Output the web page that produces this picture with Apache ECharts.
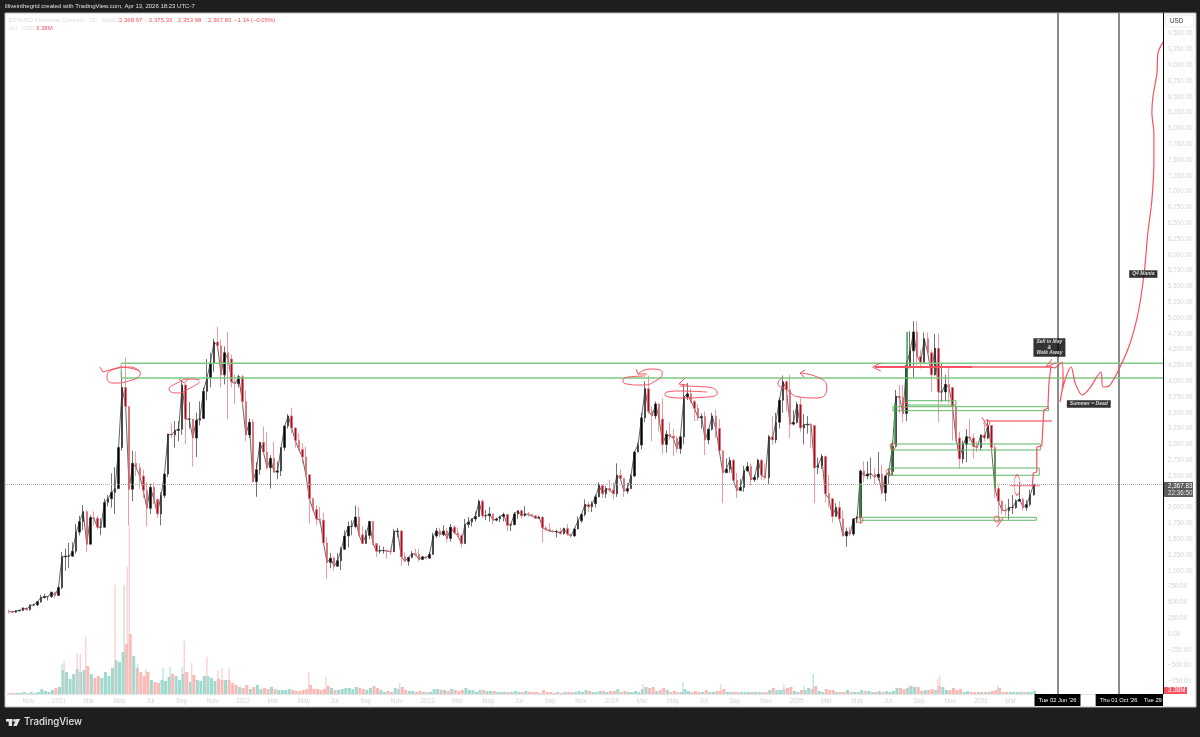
<!DOCTYPE html>
<html>
<head>
<meta charset="utf-8">
<title>ETHUSD</title>
<style>
html,body{margin:0;padding:0;background:#1e1e1e;}
#main{width:1200px;height:737px;}
</style>
<script src="https://cdn.jsdelivr.net/npm/echarts@6/dist/echarts.min.js"></script>
</head>
<body>
<div id="main"></div>
<script>
// weekly candles: [week, open, close, low, high, volume]
var weeks2020 = [
  ['09-21',365,355,320,385,1],['09-28',355,345,335,375,1],['10-05',345,365,335,380,1],['10-12',365,370,360,385,1],
  ['10-19',370,410,365,420,2],['10-26',410,385,365,420,1],['11-02',385,455,370,470,2],['11-09',455,460,440,480,1],
  ['11-16',460,510,440,510,2],['11-23',510,575,490,620,5],['11-30',575,590,560,635,3],['12-07',590,590,530,600,2],
  ['12-14',590,660,570,670,4],['12-21',660,610,560,670,6],['12-28',610,735,600,760,7]
];
var weeks2021 = [
  ['01-04',735,1220,710,1300,24],['01-11',1220,1230,1000,1350,22],['01-18',1230,1230,1040,1440,15],['01-25',1230,1310,1220,1450,20],
  ['02-01',1310,1610,1270,1740,25],['02-08',1610,1780,1560,1870,22],['02-15',1780,1935,1640,2040,24],['02-22',1935,1420,1300,1960,28],
  ['03-01',1420,1840,1420,1880,20],['03-08',1840,1830,1720,1940,16],['03-15',1830,1690,1650,1870,18],['03-22',1690,1690,1560,1830,16],
  ['03-29',1690,2080,1680,2140,22],['04-05',2080,2140,2020,2200,18],['04-12',2140,2240,2000,2540,26],['04-19',2240,2300,1900,2640,34],
  ['04-26',2300,2950,2300,2950,32],['05-03',2950,3900,2900,4170,42],['05-10',3900,3600,3500,4370,50],['05-17',3600,2290,1720,3600,60],
  ['05-24',2290,2700,2100,2900,38],['05-31',2700,2630,2500,2890,26],['06-07',2630,2500,2300,2700,22],['06-14',2500,2270,2150,2600,18],
  ['06-21',2270,1990,1700,2400,22],['06-28',1990,2320,1900,2380,14],['07-05',2320,2130,2050,2400,12],['07-12',2130,1900,1840,2100,11],
  ['07-19',1900,2190,1720,2240,14],['07-26',2190,2530,2150,2550,13],['08-02',2530,3160,2480,3170,17],['08-09',3160,3150,3100,3330,20],
  ['08-16',3150,3220,2950,3370,18],['08-23',3220,3240,3050,3370,14],['08-30',3240,3940,3150,4020,20],['09-06',3940,3400,3000,3970,22],
  ['09-13',3400,3400,3250,3670,12],['09-20',3400,3100,2650,3200,19],['09-27',3100,3380,2800,3500,14],['10-04',3380,3410,3300,3680,13],
  ['10-11',3410,3840,3400,3900,18],['10-18',3840,4050,3700,4350,18],['10-25',4050,4290,3900,4450,16],['11-01',4290,4620,4150,4670,13],
  ['11-08',4620,4560,4500,4860,15],['11-15',4560,4100,3900,4660,14],['11-22',4100,4450,3950,4550,14],['11-29',4450,4350,3400,4780,14],
  ['12-06',4350,3990,3900,4420,11],['12-13',3990,3960,3640,4100,9],['12-20',3960,4070,3900,4100,7],['12-27',4070,3680,3600,4100,6]
];
var weeks2022 = [
  ['01-03',3680,3150,3050,3850,9],['01-10',3150,3350,3100,3410,5],['01-17',3350,2410,2400,3400,7],['01-24',2410,2600,2170,2720,9],
  ['01-31',2600,3030,2520,3040,5],['02-07',3030,2880,2860,3280,6],['02-14',2880,2630,2600,3190,5],['02-21',2630,2780,2300,2830,7],
  ['02-28',2780,2560,2560,3040,5],['03-07',2560,2580,2450,2730,4],['03-14',2580,2950,2500,2950,4],['03-21',2950,3290,2900,3300,4],
  ['03-28',3290,3450,3250,3480,5],['04-04',3450,3260,3180,3580,4],['04-11',3260,3060,2950,3270,3],['04-18',3060,2920,2900,3180,3],
  ['04-25',2920,2800,2700,3020,4],['05-02',2800,2520,2480,2960,5],['05-09',2520,2140,1750,2520,9],['05-16',2140,1970,1950,2160,5],
  ['05-23',1970,1820,1720,2040,5],['05-30',1820,1800,1750,2010,4],['06-06',1800,1440,1430,1920,5],['06-13',1440,1130,870,1530,8],
  ['06-20',1130,1200,1040,1280,6],['06-27',1200,1070,1000,1230,4],['07-04',1070,1160,1070,1280,4],['07-11',1160,1340,1010,1380,5],
  ['07-18',1340,1550,1330,1640,6],['07-25',1550,1700,1370,1780,6],['08-01',1700,1700,1560,1800,5],['08-08',1700,1850,1670,2030,7],
  ['08-15',1850,1570,1550,2010,6],['08-22',1570,1430,1430,1700,5],['08-29',1430,1560,1430,1650,4],['09-05',1560,1780,1500,1790,6],
  ['09-12',1780,1430,1400,1780,8],['09-19',1430,1310,1220,1400,6],['09-26',1310,1320,1270,1400,4],['10-03',1320,1320,1270,1380,2],
  ['10-10',1320,1310,1190,1340,3],['10-17',1310,1300,1250,1350,2],['10-24',1300,1620,1300,1660,6],['10-31',1620,1630,1530,1680,5],
  ['11-07',1630,1220,1080,1650,7],['11-14',1220,1150,1150,1290,4],['11-21',1150,1210,1080,1220,3],['11-28',1210,1270,1200,1310,3],
  ['12-05',1270,1260,1220,1350,2],['12-12',1260,1180,1150,1350,3],['12-19',1180,1220,1170,1230,2],['12-26',1220,1200,1190,1230,2]
];
var weeks2023 = [
  ['01-02',1200,1260,1190,1300,2],['01-09',1260,1550,1250,1600,5],['01-16',1550,1630,1520,1680,5],['01-23',1630,1570,1530,1680,4],
  ['01-30',1570,1630,1550,1720,4],['02-06',1630,1510,1450,1680,3],['02-13',1510,1690,1460,1740,5],['02-20',1690,1600,1580,1720,4],
  ['02-27',1600,1560,1530,1680,3],['03-06',1560,1430,1370,1590,4],['03-13',1430,1730,1430,1820,6],['03-20',1730,1770,1680,1850,4],
  ['03-27',1770,1820,1700,1830,4],['04-03',1820,1860,1780,1940,2],['04-10',1860,2100,1850,2130,4],['04-17',2100,1870,1830,2130,4],
  ['04-24',1870,1870,1800,1960,3],['05-01',1870,1900,1780,2010,3],['05-08',1900,1800,1740,1910,3],['05-15',1800,1820,1780,1840,2],
  ['05-22',1820,1860,1770,1870,2],['05-29',1860,1890,1780,1920,2],['06-05',1890,1720,1630,1890,2],['06-12',1720,1730,1630,1750,2],
  ['06-19',1730,1900,1720,1930,3],['06-26',1900,1950,1820,1950,2],['07-03',1950,1870,1830,1970,2],['07-10',1870,1900,1860,2020,3],
  ['07-17',1900,1890,1850,1930,2],['07-24',1890,1870,1850,1900,2],['07-31',1870,1830,1820,1880,2],['08-07',1830,1850,1820,1870,1],
  ['08-14',1850,1680,1450,1860,4],['08-21',1680,1650,1630,1700,2],['08-28',1650,1630,1610,1750,2],['09-04',1630,1620,1600,1650,1],
  ['09-11',1620,1620,1530,1650,2],['09-18',1620,1590,1570,1680,1],['09-25',1590,1670,1570,1680,2],['10-02',1670,1580,1550,1740,2],
  ['10-09',1580,1550,1520,1590,2],['10-16',1550,1660,1540,1680,2],['10-23',1660,1790,1660,1860,3],['10-30',1790,1890,1760,1910,2],
  ['11-06',1890,2050,1860,2130,4],['11-13',2050,2010,1930,2090,3],['11-20',2010,2060,1930,2100,2],['11-27',2060,2170,2000,2210,2],
  ['12-04',2170,2350,2160,2400,3],['12-11',2350,2220,2150,2350,3],['12-18',2220,2300,2150,2340,2],['12-25',2300,2280,2240,2440,3]
];
var weeks2024 = [
  ['01-01',2280,2220,2130,2400,3],['01-08',2220,2510,2170,2700,5],['01-15',2510,2460,2440,2610,2],['01-22',2460,2260,2170,2470,3],
  ['01-29',2260,2300,2220,2390,2],['02-05',2300,2500,2290,2530,2],['02-12',2500,2880,2480,2890,3],['02-19',2880,2990,2890,3030,2],
  ['02-26',2990,3420,2920,3500,5],['03-04',3420,3880,3350,4000,7],['03-11',3880,3520,3480,4090,6],['03-18',3520,3450,3050,3600,7],
  ['03-25',3450,3640,3400,3680,3],['04-01',3640,3400,3200,3650,4],['04-08',3400,3000,2850,3730,6],['04-15',3000,3160,2870,3220,4],
  ['04-22',3160,3130,3080,3350,2],['04-29',3130,3100,2820,3250,3],['05-06',3100,2930,2870,3130,2],['05-13',2930,3120,2850,3120,2],
  ['05-20',3120,3750,3000,3950,5],['05-27',3750,3800,3700,3970,3],['06-03',3800,3680,3650,3880,2],['06-10',3680,3570,3370,3700,3],
  ['06-17',3570,3420,3370,3640,2],['06-24',3420,3440,3250,3490,2],['07-01',3440,3070,2830,3520,4],['07-08',3070,3240,3000,3240,2],
  ['07-15',3240,3450,3220,3500,2],['07-22',3450,3250,3100,3550,3],['07-29',3250,2900,2900,3400,3],['08-05',2900,2550,2070,2900,5],
  ['08-12',2550,2610,2550,2780,2],['08-19',2610,2750,2550,2800,2],['08-26',2750,2430,2420,2770,2],['09-02',2430,2270,2150,2550,2],
  ['09-09',2270,2320,2260,2450,2],['09-16',2320,2580,2250,2660,2],['09-23',2580,2650,2570,2720,2],['09-30',2650,2440,2350,2700,2],
  ['10-07',2440,2480,2410,2520,2],['10-14',2480,2750,2440,2770,2],['10-21',2750,2510,2440,2770,2],['10-28',2510,2470,2440,2700,2],
  ['11-04',2470,3120,2370,3150,4],['11-11',3120,3070,3000,3450,6],['11-18',3070,3350,3020,3500,4],['11-25',3350,3700,3250,3740,4],
  ['12-02',3700,3990,3500,4090,5],['12-09',3990,3870,3520,4020,6],['12-16',3870,3320,3100,4100,7],['12-23',3320,3350,3300,3540,3],
  ['12-30',3350,3630,3330,3670,2]
];
var weeks2025 = [
  ['01-06',3630,3260,3200,3740,4],['01-13',3260,3310,3000,3480,4],['01-20',3310,3320,3170,3450,6],['01-27',3320,3300,2950,3340,5],
  ['02-03',3300,2630,2070,3300,8],['02-10',2630,2670,2530,2790,3],['02-17',2670,2810,2610,2850,2],['02-24',2810,2220,2080,2820,5],
  ['03-03',2220,2140,2000,2520,4],['03-10',2140,1860,1760,2150,4],['03-17',1860,2000,1860,2070,2],['03-24',2000,1820,1800,2100,2],
  ['03-31',1820,1550,1540,1950,2],['04-07',1550,1620,1380,1680,4],['04-14',1620,1580,1550,1690,2],['04-21',1580,1820,1550,1830,2],
  ['04-28',1820,1840,1750,1870,2],['05-05',1840,2580,1750,2600,4],['05-12',2580,2500,2400,2730,3],['05-19',2500,2530,2450,2730,3],
  ['05-26',2530,2530,2450,2790,2],['06-02',2530,2480,2370,2620,2],['06-09',2480,2530,2430,2880,3],['06-16',2530,2230,2200,2680,2],
  ['06-23',2230,2500,2100,2520,3],['06-30',2500,2570,2370,2620,2],['07-07',2570,2970,2500,3040,3],['07-14',2970,3760,2950,3860,6],
  ['07-21',3760,3740,3500,3940,6],['07-28',3740,3490,3350,3940,5],['08-04',3490,4250,3370,4330,6],['08-11',4250,4480,4200,4790,8],
  ['08-18',4480,4780,4060,4950,7],['08-25',4780,4390,4250,4950,7],['09-01',4390,4300,4200,4500,3],['09-08',4300,4670,4280,4770,4],
  ['09-15',4670,4450,4440,4770,4],['09-22',4450,4100,3830,4500,5],['09-29',4100,4520,4090,4750,4],['10-06',4520,3830,3350,4750,8],
  ['10-13',3830,3830,3670,4290,7],['10-20',3830,3950,3680,4100,4],['10-27',3950,3900,3650,4250,4],['11-03',3900,3600,3060,3900,6],
  ['11-10',3600,3100,3050,3650,4],['11-17',3100,2770,2620,3200,5],['11-24',2770,3000,2700,3060,2],['12-01',3000,3120,2720,3240,3],
  ['12-08',3120,3100,3050,3400,2],['12-15',3100,2970,2780,3170,2],['12-22',2970,2950,2880,3050,2],['12-29',2950,3150,2900,3150,2]
];
var weeks2026 = [
  ['01-05',3150,3100,3050,3300,2],['01-12',3100,3300,3080,3400,2],['01-19',3300,2950,2870,3300,3],['01-26',2950,2300,2150,3000,4],
  ['02-02',2300,2100,1750,2350,6],['02-09',2100,1960,1900,2120,2],['02-16',1960,1950,1870,2050,2],['02-23',1950,2000,1810,2140,2],
  ['03-02',2000,2000,1900,2200,2],['03-09',2000,2100,1980,2130,2],['03-16',2100,2130,2100,2400,2],['03-23',2130,2000,1950,2160,2],
  ['03-30',2000,2050,1950,2120,2],['04-06',2050,2200,2020,2280,2],['04-13',2200,2367.83,2190,2375.33,3.38]
];
var years = [[2020,weeks2020],[2021,weeks2021],[2022,weeks2022],[2023,weeks2023],[2024,weeks2024],[2025,weeks2025],[2026,weeks2026]];

// single day volume spikes that stand above the weekly bars, [days since 1 Jan 2021, volume]
var downSpikes = [[10,33],[36,41],[42,40],[53,57],[111,109],[135,127],[139,169],[172,25],[248,53],[263,31],[293,37],[315,24],[323,26],[337,26],[495,22],[529,17],[675,11],[1157,10],[1311,10],[1436,10],[1684,9],[1741,15],[1745,18]];
var upSpikes = [[6,30],[129,109],[156,30],[206,26],[220,27],[244,27],[1236,12],[1476,8],[1494,20],[1860,8]];

var lastClose = 2367.83;
var priceTicks = [-750,-500,-250,0,250,500,750,1000,1250,1500,1750,2000,2250,2500,2750,3000,3250,3500,3750,4000,4250,4500,4750,5000,5250,5500,5750,6000,6250,6500,6750,7000,7250,7500,7750,8000,8250,8500,8750,9000,9250,9500];
var timeTicks = [['2020-11-01','Nov'],['2021-01-01','2021'],['2021-03-01','Mar'],['2021-05-01','May'],['2021-07-01','Jul'],['2021-09-01','Sep'],['2021-11-01','Nov'],
  ['2022-01-01','2022'],['2022-03-01','Mar'],['2022-05-01','May'],['2022-07-01','Jul'],['2022-09-01','Sep'],['2022-11-01','Nov'],
  ['2023-01-01','2023'],['2023-03-01','Mar'],['2023-05-01','May'],['2023-07-01','Jul'],['2023-09-01','Sep'],['2023-11-01','Nov'],
  ['2024-01-01','2024'],['2024-03-01','Mar'],['2024-05-01','May'],['2024-07-01','Jul'],['2024-09-01','Sep'],['2024-11-01','Nov'],
  ['2025-01-01','2025'],['2025-03-01','Mar'],['2025-05-01','May'],['2025-07-01','Jul'],['2025-09-01','Sep'],['2025-11-01','Nov'],
  ['2026-01-01','2026'],['2026-03-01','Mar']];
var timeLines = [['2026-06-02',"Tue 02 Jun '26"],['2026-10-01',"Thu 01 Oct '26"]];

// drawings on the chart, as [days since 1 Jan 2021, price]
var band = [4285,4050];
var bandStart = 123;
var bandEnd = 2187;
var boxes = [[1587,1846,1936,1799],[1644,2626,1942,2511],[1648,3006,1944,2911],[1652,3596,1960,3533],[1680,3691,1777,3623]];
var greenRuns = [
  [[1587,1851],[1587,2389]],[[1650,3006],[1650,2515]],[[1656,3654],[1656,3022]],[[1680,3670],[1680,4778]],[[1854,2911],[1854,2310]]
];
var scribbles = [
  [[81,4224],[87,4145],[121,4224]],
  [[238,4034],[248,3971],[256,4034]],
  [[1143,4192],[1147,4113],[1165,4113]],
  [[1240,4050],[1228,3955],[1244,3940]],
  [[1478,4176],[1468,4129],[1476,4066]],
  [[1828,3433],[1840,3275]],
  [[1858,1693],[1870,1835]],
  [[1628,4290],[1612,4224],[1628,4160]],
  [[1967,4350],[1955,4224],[1975,4290]]
];
var ovals = [
  [[121,4224],[161,4129],[145,4018],[107,3971],[95,4066],[111,4192],[141,4224],[161,4145]],
  [[279,3987],[260,3892],[234,3813],[218,3876],[230,3955],[260,4034],[279,4018]],
  [[1147,4113],[1171,4192],[1195,4129],[1185,4018],[1151,3939],[1125,3955],[1117,4002],[1127,4066],[1161,4082]],
  [[1230,3923],[1284,3908],[1304,3813],[1284,3749],[1230,3734],[1200,3797],[1224,3844],[1284,3828]],
  [[1468,4129],[1502,4066],[1521,3892],[1502,3734],[1468,3749],[1442,3860],[1424,3971],[1432,4050]]
];
var hLines = [
  [[1617,4224],[1967,4224]],
  [[1617,4224],[1809,4224]],
  [[1838,3370],[1967,3370]],
  [[1884,2346],[1943,2346]]
];
var stairs = [[1928,2326],[1928,2357],[1930,2547],[1937,2563],[1937,2958],[1947,2974],[1949,3275],[1951,3544],[1959,3575],[1961,3971],[1965,4224],[1973,4208]];
var forecast = [[1973,4208],[1987,4303],[1989,4018],[1983,3670],[1991,3971],[2005,4224],[2013,3971],[2027,3781],[2042,3892],[2064,4145],[2068,3908],[2082,3939],[2102,4224],[2122,4604],[2136,5015],[2143,5316],[2151,5806],[2157,6344],[2165,6866],[2169,7499],[2169,7926],[2165,8242],[2167,8495],[2175,8875],[2177,9191],[2187,9365]];
var rings = [[1652,2974],[1644,2563],[1587,1803],[1676,3623],[1858,1819],[1838,3338]];
var notes = [[1962,4533,'Sell in May\n&\nWalk Away'],[2040,3639,'Summer = Dead'],[2148,5695,'Q4 Mania']];

function dayNo(s){
  return (Date.parse(s+'T00:00:00Z')-Date.UTC(2021,0,1))/86400000;
}
function money(v){
  var t=Math.abs(v).toLocaleString('en-US',{minimumFractionDigits:2,maximumFractionDigits:2});
  return (v<0?'\u2212':'')+t;
}

var candles=[],closes=[],volumes=[];
years.forEach(function(y){
  y[1].forEach(function(r){
    var x=dayNo(y[0]+'-'+r[0])+3;
    candles.push([x,r[1],r[2],r[3],r[4]]);
    closes.push([x,r[2]]);
    volumes.push({value:[x,r[5]],itemStyle:{color:r[2]>=r[1]?'#9fd9d0':'#fbb9b5'}});
  });
});
var tickDays=timeTicks.map(function(t){return dayNo(t[0]);});
var tickNames={};
timeTicks.forEach(function(t){tickNames[dayNo(t[0])]=t[1];});

var FONT='"Liberation Sans",sans-serif';
var RED='#f7525f';
var GREEN='#5fb866';

function line(data,color,width,smooth,opacity){
  return {type:'line',data:data,symbol:'none',smooth:smooth||false,silent:true,z:5,clip:true,
    lineStyle:{color:color,width:width,opacity:opacity==null?1:opacity}};
}
function txt(x,y,s,color,size,extra){
  var style={x:x,y:y,text:s,fill:color,font:(size||6.3)+'px '+FONT,textVerticalAlign:'middle'};
  for(var k in extra||{})style[k]=extra[k];
  return {type:'text',z:100,style:style,silent:true};
}
function dateLine(t){
  return {xAxis:dayNo(t[0]),lineStyle:{color:'#666',type:'solid',width:1.5},
    label:{show:true,position:'start',distance:0,formatter:t[1],color:'#fff',backgroundColor:'#000',fontSize:5.8,fontFamily:FONT,padding:[3,4],verticalAlign:'top'}};
}

var series=[];
series.push({type:'bar',name:'Vol',data:volumes,yAxisIndex:1,barWidth:3,silent:true,z:1});
series.push({type:'bar',name:'VolDown',data:downSpikes,yAxisIndex:1,barWidth:1,barGap:'-100%',silent:true,z:1,itemStyle:{color:'#f9c2be'}});
series.push({type:'bar',name:'VolUp',data:upSpikes,yAxisIndex:1,barWidth:1,barGap:'-100%',silent:true,z:1,itemStyle:{color:'#a5dcd4'}});
var closeLine=line(closes,'#666',1);
closeLine.z=2;
series.push(closeLine);
series.push({type:'candlestick',name:'ETHUSD',data:candles,barWidth:2,silent:true,z:3,encode:{x:0,y:[1,2,3,4]},
  itemStyle:{color:'#000',color0:'#a50e16',borderColor:'#333',borderColor0:'#e8707a',borderWidth:0.7},
  markLine:{symbol:'none',silent:true,z:4,animation:false,
    data:[
      {yAxis:lastClose,lineStyle:{color:'#aaa',type:'dotted',width:1},label:{show:false}},
      dateLine(timeLines[0]),
      dateLine(timeLines[1])
    ]}
});
series.push(line([[bandStart,band[0]],[bandEnd,band[0]]],'#7ec983',1.5));
series.push(line([[bandStart,band[1]],[bandEnd,band[1]]],'#7ec983',1.5));
series.push(line([[bandStart,band[0]],[bandStart,band[1]]],'#7ec983',1));
boxes.forEach(function(b){
  series.push(line([[b[0],b[1]],[b[2],b[1]],[b[2],b[3]],[b[0],b[3]],[b[0],b[1]]],GREEN,1));
});
greenRuns.forEach(function(g){series.push(line(g,'#3f9f45',1.5));});
scribbles.forEach(function(s){series.push(line(s,RED,1));});
ovals.forEach(function(s){series.push(line(s,RED,1,0.6));});
series.push(line(hLines[0],RED,2,false,0.7));
series.push(line(hLines[1],RED,2));
series.push(line(hLines[2],'#f23645',1));
series.push(line(hLines[3],RED,1,false,0.8));
series.push(line(stairs,RED,1.2));
series.push(line(forecast,RED,1.2,0.3));
series.push({type:'scatter',data:rings,symbol:'circle',symbolSize:6,silent:true,z:6,itemStyle:{color:'transparent',borderColor:RED,borderWidth:1}});
series.push({type:'scatter',data:[[1898,2357]],symbol:'circle',symbolSize:[6,20],silent:true,z:6,itemStyle:{color:'transparent',borderColor:RED,borderWidth:1}});
series.push({type:'scatter',data:notes,symbolSize:0,silent:true,z:7,
  label:{show:true,position:'inside',color:'#fff',fontSize:5,fontWeight:'bold',fontStyle:'italic',fontFamily:FONT,lineHeight:5.5,align:'center',verticalAlign:'middle',
    backgroundColor:'#000',padding:[1,3],formatter:function(p){return p.value[2];}}});

var chart=echarts.init(document.getElementById('main'),null,{renderer:'canvas'});
chart.setOption({
  animation:false,
  backgroundColor:'#1e1e1e',
  tooltip:{show:false},
  legend:{show:false},
  grid:{left:5,right:37,top:13,bottom:43,containLabel:false},
  xAxis:{type:'value',min:-107,max:2187,splitLine:{show:false},
    axisLine:{show:true,onZero:false,lineStyle:{color:'#e4e4e4',width:1}},
    axisTick:{show:false},
    axisLabel:{customValues:tickDays,color:'#d4d4d4',fontSize:6.3,fontFamily:FONT,margin:4,hideOverlap:false,
      formatter:function(v){return tickNames[v]||'';}}},
  yAxis:[
    {type:'value',position:'right',min:-950,max:9826,splitLine:{show:false},
      axisLine:{show:true,onZero:false,lineStyle:{color:'#000',width:1}},
      axisTick:{show:false},
      axisLabel:{customValues:priceTicks,color:'#d4d4d4',fontSize:6.3,fontFamily:FONT,margin:5,hideOverlap:false,
        formatter:function(v){return money(v);}}},
    {type:'value',min:0,max:681,show:false,splitLine:{show:false}}
  ],
  series:series,
  graphic:{elements:[
    {type:'rect',z:-1,silent:true,shape:{x:5,y:13,width:1191,height:694},style:{fill:'#fff',stroke:'#bdbdbd',lineWidth:1}},
    txt(5,6.5,'illiveinthegrid created with TradingView.com, Apr 13, 2026 18:23 UTC-7','#e0e0e0',6),
    txt(9,20,'ETHUSD Perpetual Contract \u00b7 1D \u00b7 Bybit','#dcdcdc',5.9),
    txt(115,20,'O','#dcdcdc',5.6),txt(119,20,'2,368.97',RED,6),
    txt(145,20,'H','#dcdcdc',5.6),txt(149,20,'2,375.33',RED,6),
    txt(174,20,'L','#dcdcdc',5.6),txt(178,20,'2,353.98',RED,6),
    txt(204,20,'C','#dcdcdc',5.6),txt(208,20,'2,367.83',RED,6),
    txt(234,20,'\u22121.14 (\u22120.05%)',RED,6),
    txt(9,28.5,'Vol \u00b7 USD','#dcdcdc',5.7),txt(36,28.5,'3.38M',RED,6),
    {type:'rect',z:90,silent:true,shape:{x:1165.5,y:15.5,width:28,height:11.5},style:{fill:'#fff',stroke:'#eee',lineWidth:1}},
    txt(1170,21.5,'USD','#333',6.3),
    {type:'rect',z:90,silent:true,shape:{x:1164,y:482,width:29,height:15},style:{fill:'#5d5d5d'}},
    txt(1168,486.3,'2,367.83','#fff',6.3),
    txt(1168,492.8,'22:36:50','#e6e6e6',6.3),
    {type:'rect',z:90,silent:true,shape:{x:1164,y:687,width:23,height:7},style:{fill:RED}},
    txt(1168,690.7,'3.38M','#fff',6.3),
    {type:'rect',z:90,silent:true,shape:{x:1140,y:694,width:23,height:12},style:{fill:'#000'}},
    txt(1144,700.5,'Tue 29','#fff',5.8),
    // TradingView logo
    {type:'rect',z:100,silent:true,shape:{x:6,y:719,width:6.5,height:2.6},style:{fill:'#e4e4e4'}},
    {type:'rect',z:100,silent:true,shape:{x:8.7,y:719,width:3.4,height:7},style:{fill:'#e4e4e4'}},
    {type:'circle',z:100,silent:true,shape:{cx:14.6,cy:720.4,r:1.4},style:{fill:'#e4e4e4'}},
    {type:'polygon',z:100,silent:true,shape:{points:[[20,719],[16.8,726],[13.2,726],[16.3,719]]},style:{fill:'#e4e4e4'}},
    txt(24,722.3,'TradingView','#e4e4e4',9.7,{font:'500 9.7px Inter,sans-serif'})
  ]}
});
</script>
</body>
</html>
